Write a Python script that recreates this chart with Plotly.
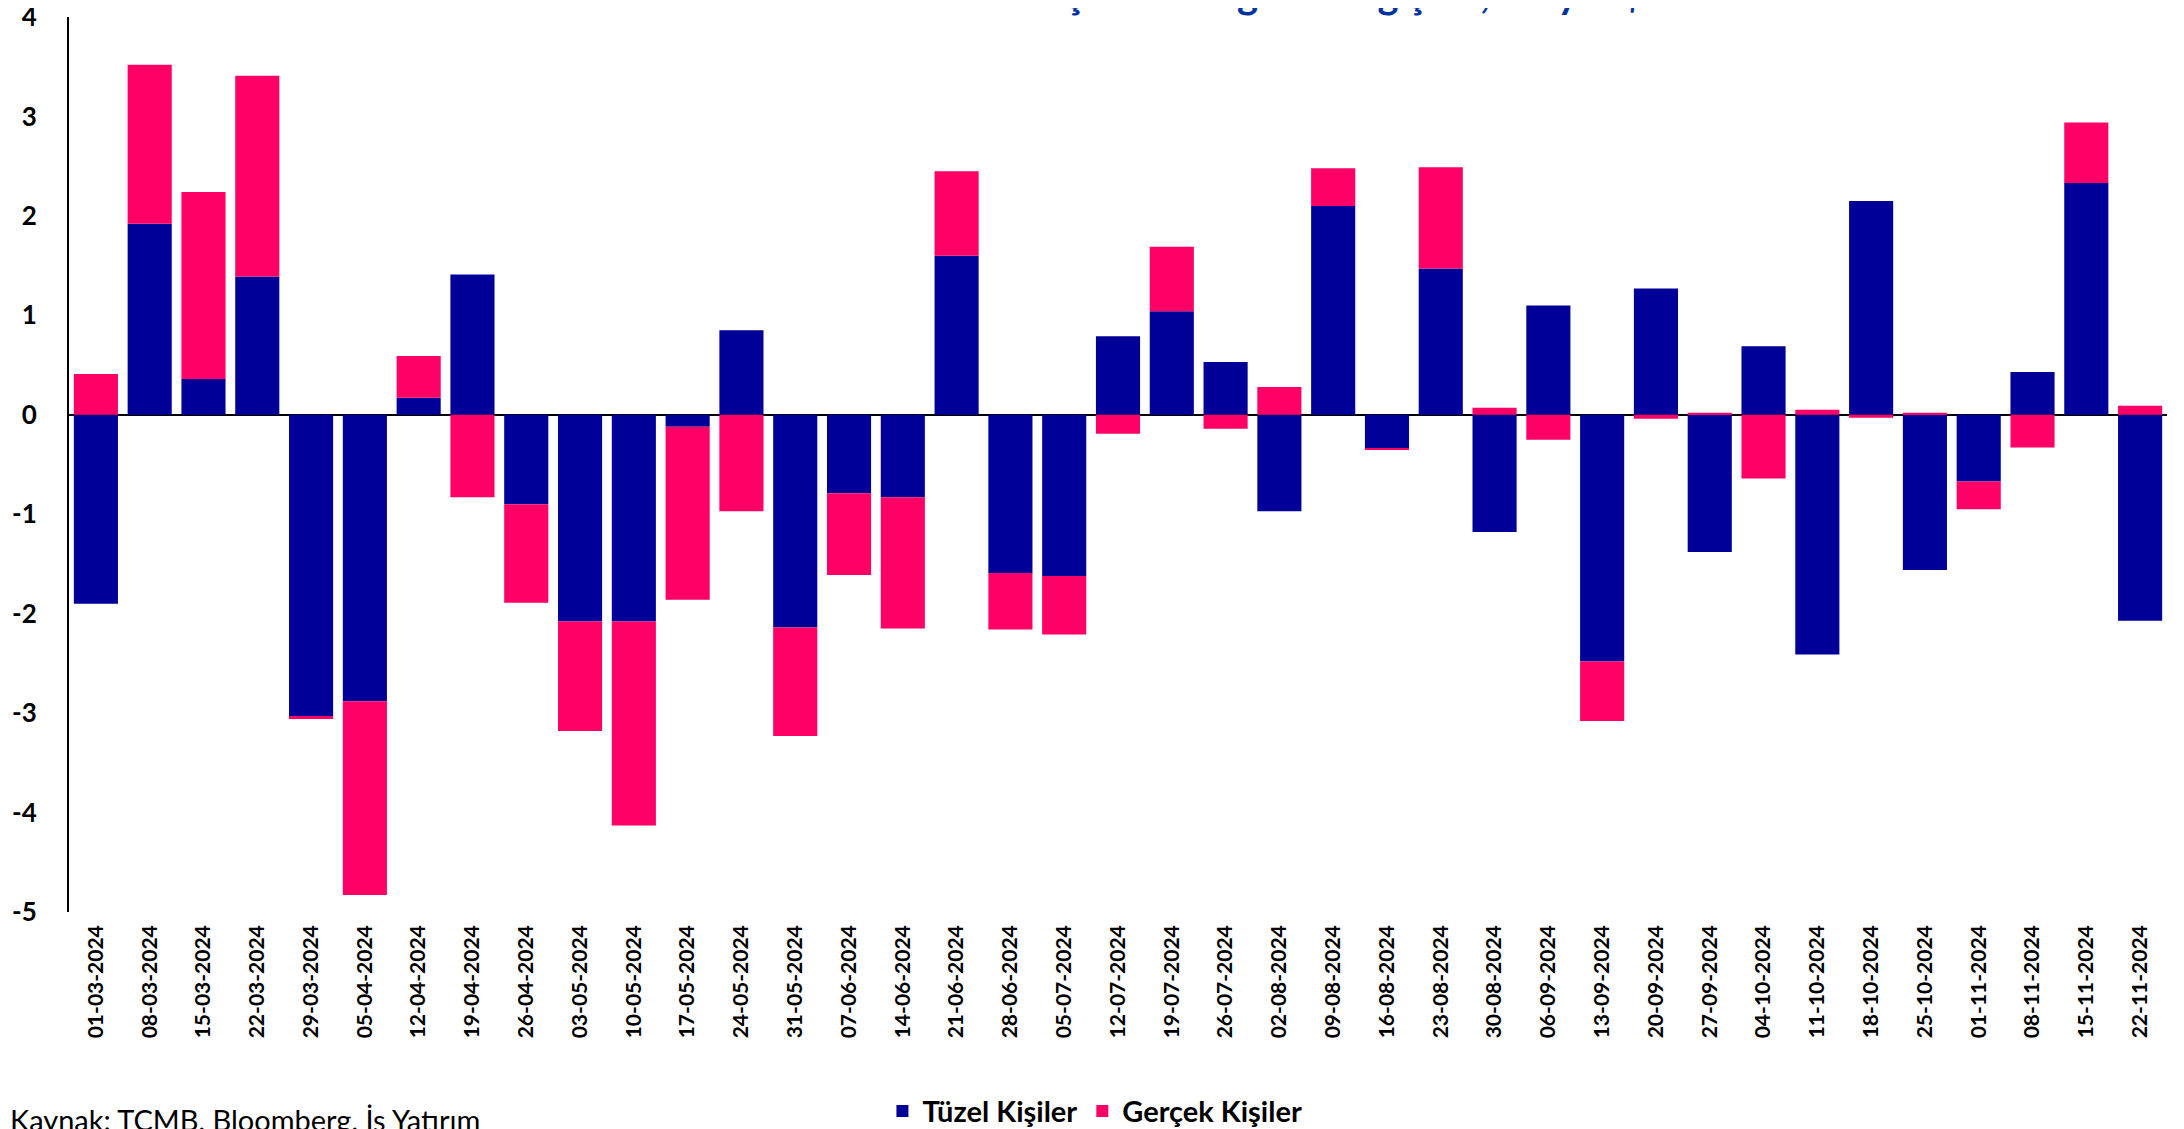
import plotly.graph_objects as go

dates = ["01-03-2024", "08-03-2024", "15-03-2024", "22-03-2024", "29-03-2024", "05-04-2024",
         "12-04-2024", "19-04-2024", "26-04-2024", "03-05-2024", "10-05-2024", "17-05-2024",
         "24-05-2024", "31-05-2024", "07-06-2024", "14-06-2024", "21-06-2024", "28-06-2024",
         "05-07-2024", "12-07-2024", "19-07-2024", "26-07-2024", "02-08-2024", "09-08-2024",
         "16-08-2024", "23-08-2024", "30-08-2024", "06-09-2024", "13-09-2024", "20-09-2024",
         "27-09-2024", "04-10-2024", "11-10-2024", "18-10-2024", "25-10-2024", "01-11-2024",
         "08-11-2024", "15-11-2024", "22-11-2024"]

tuzel = [-1.90, 1.92, 0.36, 1.39, -3.03, -2.88, 0.17, 1.41, -0.90, -2.08, -2.08, -0.12,
         0.85, -2.14, -0.79, -0.83, 1.60, -1.59, -1.62, 0.79, 1.04, 0.53, -0.97, 2.10,
         -0.34, 1.47, -1.18, 1.10, -2.48, 1.27, -1.38, 0.69, -2.41, 2.15, -1.56, -0.67,
         0.43, 2.33, -2.07]

gercek = [0.41, 1.60, 1.88, 2.02, -0.03, -1.95, 0.42, -0.83, -0.99, -1.10, -2.05, -1.74,
          -0.97, -1.09, -0.82, -1.32, 0.85, -0.57, -0.59, -0.19, 0.65, -0.14, 0.28, 0.38,
          -0.01, 1.02, 0.07, -0.25, -0.60, -0.04, 0.02, -0.64, 0.05, -0.03, 0.02, -0.28,
          -0.33, 0.61, 0.09]

y_ticks = [4, 3, 2, 1, 0, -1, -2, -3, -4, -5]
y_tick_labels = ["4", "3", "2", "1", "0", "-1", "-2", "-3", "-4", "-5"]

title_text = "Hisse Senedi Alımlarının Kişi Türüne göre Değişimi, Milyar $"
source_text = "Kaynak: TCMB, Bloomberg, İş Yatırım"

FONT = "Lato"

# figure is placed at an 8px page offset (default body margin), so size is reduced by 8
W, H = 2176, 1121
L, R, T, B = 61, 17, 9, 217
PW = W - L - R

fig = go.Figure()
fig.add_trace(go.Bar(x=dates, y=tuzel, name="Tüzel Kişiler",
                     marker=dict(color="#000099", line=dict(width=0))))
fig.add_trace(go.Bar(x=dates, y=gercek, name="Gerçek Kişiler",
                     marker=dict(color="#FF0066", line=dict(width=0))))

fig.update_layout(
    width=W, height=H,
    barmode="relative",
    bargap=0.18,
    plot_bgcolor="white",
    paper_bgcolor="white",
    margin=dict(l=L, r=R, t=T, b=B, autoexpand=False),
    font=dict(family=FONT, color="black"),
    showlegend=True,
    legend=dict(orientation="h", x=0.489, xanchor="center",
                yref="container", y=0.016, yanchor="middle",
                font=dict(family=FONT, size=29, color="black", weight="bold"),
                itemwidth=30, traceorder="normal"),
    annotations=[
        dict(text=title_text, x=0.5, xref="paper", xanchor="center",
             y=0.9978, yref="paper", yanchor="bottom", showarrow=False,
             font=dict(family=FONT, size=40, color="#0033A0", weight="bold")),
        dict(text=source_text, x=(0 - L) / PW, xref="paper", xanchor="left",
             y=-0.21, yref="paper", yanchor="top", showarrow=False,
             font=dict(family=FONT, size=29, color="black")),
    ],
)

fig.update_xaxes(
    type="category",
    tickangle=-90,
    tickfont=dict(family=FONT, size=21, color="black", weight="bold"),
    showgrid=False, showline=False, zeroline=False,
    ticks="", ticklabelstandoff=8, automargin=False,
)
fig.update_yaxes(
    range=[-5, 4],
    tickmode="array",
    tickvals=y_ticks,
    ticktext=y_tick_labels,
    tickfont=dict(family=FONT, size=26, color="black", weight="bold"),
    showgrid=False,
    showline=True, linecolor="black", linewidth=2,
    zeroline=True, zerolinecolor="black", zerolinewidth=2,
    ticks="", ticklabelstandoff=25, ticklabeloverflow="allow", automargin=False,
)

fig.write_html("out.html")
